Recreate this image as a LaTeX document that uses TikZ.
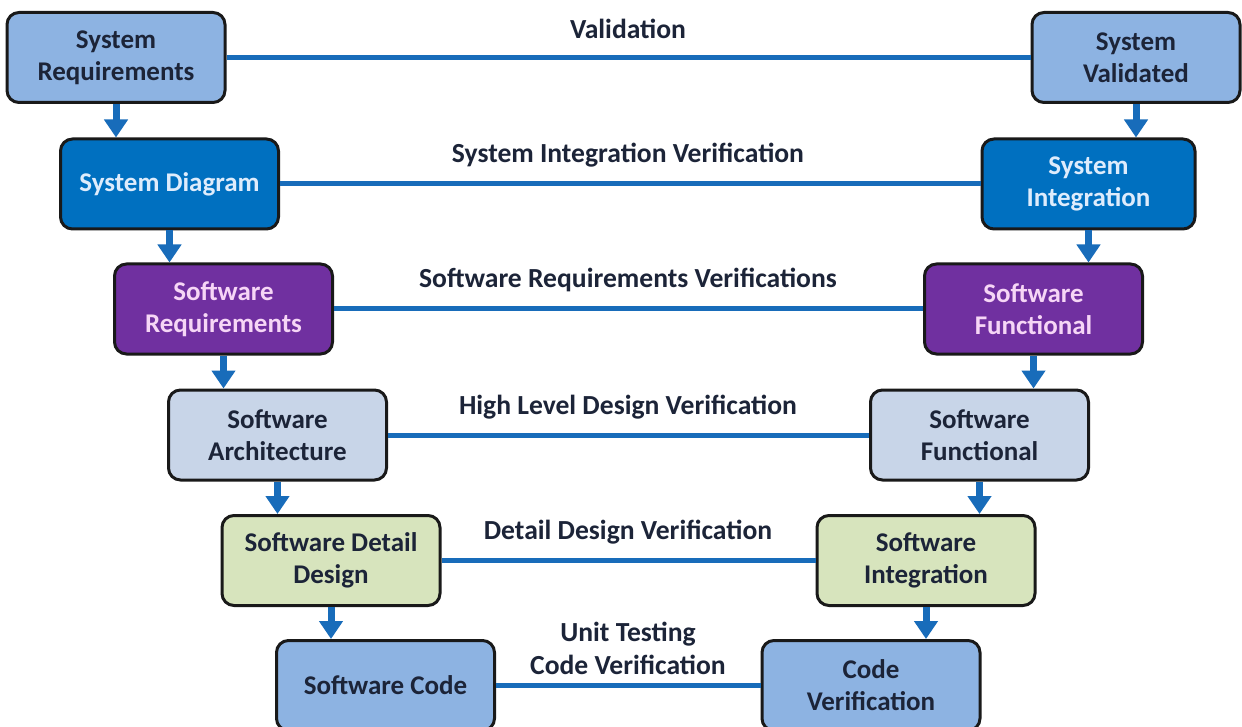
\documentclass[tikz,border=0pt]{standalone}
\usepackage{fontspec}
\setmainfont{Carlito}
\usetikzlibrary{arrows.meta}
\definecolor{rowA}{RGB}{141,179,226}
\definecolor{rowB}{RGB}{0,112,192}
\definecolor{rowC}{RGB}{112,48,160}
\definecolor{rowD}{RGB}{200,213,232}
\definecolor{rowE}{RGB}{215,228,189}
\definecolor{linkblue}{RGB}{24,108,186}
\definecolor{darktext}{RGB}{28,36,56}
\definecolor{lighttext}{RGB}{222,236,252}
\definecolor{pinktext}{RGB}{246,214,246}
\definecolor{bordercol}{RGB}{25,25,25}
\tikzset{
  vbox/.style={draw=bordercol, line width=3pt, rounded corners=12pt, minimum height=90pt, minimum width=218pt, inner sep=0pt, align=center, font=\fontsize{27}{32}\selectfont\bfseries},
  boxA/.style={vbox, fill=rowA, text=darktext},
  boxB/.style={vbox, fill=rowB, text=lighttext},
  boxC/.style={vbox, fill=rowC, text=pinktext},
  boxD/.style={vbox, fill=rowD, text=darktext},
  boxE/.style={vbox, fill=rowE, text=darktext},
  hlink/.style={draw=linkblue, line width=5pt},
  downarrow/.style={draw=linkblue, line width=7pt, -{Triangle[width=23pt,length=18pt]}},
  vlabel/.style={align=center, text=darktext, font=\fontsize{27.6}{33}\selectfont\bfseries, inner sep=0pt}
}
\begin{document}
\begin{tikzpicture}[x=1pt,y=-1pt]
\useasboundingbox (0,0) rectangle (1242,727);
\fill[white] (0,0) rectangle (1242,727);
% left column
\node[boxA] (sr) at (116,57.5) {System\\Requirements};
\node[boxB] (sd) at (169.5,184) {System Diagram};
\node[boxC] (swr) at (223.5,309) {Software\\Requirements};
\node[boxD] (swa) at (277.5,435) {Software\\Architecture};
\node[boxE] (sdd) at (331,560.5) {Software Detail\\Design};
\node[boxA] (sc) at (385.5,685.5) {Software Code};
% right column
\node[boxA, minimum width=208pt] (sv) at (1136,57.5) {System\\Validated};
\node[boxB, minimum width=213pt] (si) at (1088.5,184) {System\\Integration};
\node[boxC] (swf) at (1033.5,309) {Software\\Functional};
\node[boxD] (swf2) at (979.5,435) {Software\\Functional};
\node[boxE] (swi) at (926,560.5) {Software\\Integration};
\node[boxA] (cv) at (871,685.5) {Code\\Verification};
% labels
\node[vlabel] (l1) at (628,29) {Validation};
\node[vlabel] (l2) at (628,155) {System Integration Verification};
\node[vlabel] (l3) at (628,280) {Software Requirements Verifications};
\node[vlabel] (l4) at (628,407) {High Level Design Verification};
\node[vlabel] (l5) at (628,532) {Detail Design Verification};
\node[vlabel] (l6) at (628,648) {Unit Testing\\Code Verification};
% horizontal links
\draw[hlink] (sr.east) -- (sv.west);
\draw[hlink] (sd.east) -- (si.west);
\draw[hlink] (swr.east) -- (swf.west);
\draw[hlink] (swa.east) -- (swf2.west);
\draw[hlink] (sdd.east) -- (swi.west);
\draw[hlink] (sc.east) -- (cv.west);
% down arrows
\draw[downarrow] (sr.south) -- (sr.south |- sd.north);
\draw[downarrow] (sd.south) -- (sd.south |- swr.north);
\draw[downarrow] (swr.south) -- (swr.south |- swa.north);
\draw[downarrow] (swa.south) -- (swa.south |- sdd.north);
\draw[downarrow] (sdd.south) -- (sdd.south |- sc.north);
\draw[downarrow] (sv.south) -- (sv.south |- si.north);
\draw[downarrow] (si.south) -- (si.south |- swf.north);
\draw[downarrow] (swf.south) -- (swf.south |- swf2.north);
\draw[downarrow] (swf2.south) -- (swf2.south |- swi.north);
\draw[downarrow] (swi.south) -- (swi.south |- cv.north);
\end{tikzpicture}
\end{document}
